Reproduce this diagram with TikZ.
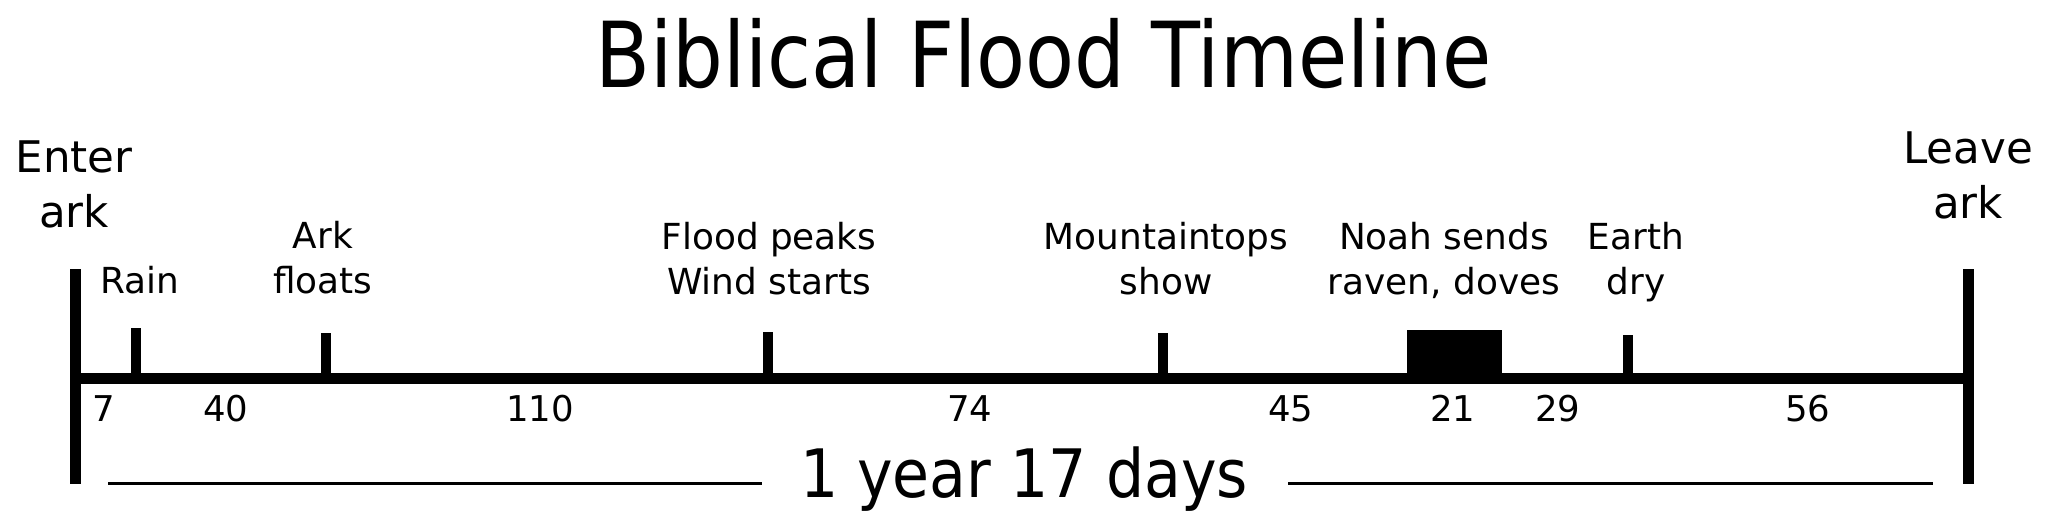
\documentclass[tikz,border=0pt]{standalone}
\usepackage{fontspec}
\setmainfont{DejaVu Sans}
\newfontfamily\narrowfont[FakeStretch=0.88]{DejaVu Sans}
\newfontfamily\totalfont[FakeStretch=0.90]{DejaVu Sans}

\begin{document}
\begin{tikzpicture}[
  event/.style={font=\fontsize{10.2}{12.8}\selectfont, align=center, inner sep=0pt, anchor=base},
  ends/.style={font=\fontsize{12.4}{15.6}\selectfont, align=center, inner sep=0pt, anchor=base},
  count/.style={font=\fontsize{10.1}{12}\selectfont, inner sep=0pt, anchor=base},
  axisline/.style={line width=1.07mm},
  tickline/.style={line width=1mm},
]
\useasboundingbox (0,0) rectangle (20.48,5.21);
% title
\node[font=\narrowfont\fontsize{25.9}{30}\selectfont, inner sep=0pt, anchor=base] (title) at (10.435,4.34) {Biblical Flood Timeline};
% main axis and end bars
\draw[axisline] (0.755,1.425) -- (19.685,1.425);
\draw[axisline] (0.755,2.52) -- (0.755,0.37);
\draw[axisline] (19.685,2.52) -- (19.685,0.37);
\node[ends] (enter) at (0.74,2.94) {Enter\\ark};
\node[ends] (leave) at (19.68,3.03) {Leave\\ark};
% events
\draw[tickline] (1.36,1.425) -- (1.36,1.93);
\draw[tickline] (3.255,1.425) -- (3.255,1.88);
\draw[tickline] (7.68,1.425) -- (7.68,1.89);
\draw[tickline] (11.63,1.425) -- (11.63,1.88);
\fill (14.07,1.425) rectangle (15.02,1.91);
\draw[tickline] (16.28,1.425) -- (16.28,1.86);
\node[event] (rain) at (1.395,2.28) {Rain};
\node[event] (floats) at (3.23,2.28) {Ark\\floats};
\node[event] (peaks) at (7.69,2.27) {Flood peaks\\Wind starts};
\node[event] (mount) at (11.66,2.27) {Mountaintops\\show};
\node[event] (noah) at (14.44,2.27) {Noah sends\\raven, doves};
\node[event] (earth) at (16.36,2.27) {Earth\\dry};
% day counts
\node[count] (d7) at (1.035,0.995) {7};
\node[count] (d40) at (2.26,0.995) {40};
\node[count] (d110) at (5.40,0.995) {110};
\node[count] (d74) at (9.70,0.995) {74};
\node[count] (d45) at (12.91,0.995) {45};
\node[count] (d21) at (14.53,0.995) {21};
\node[count] (d29) at (15.58,0.995) {29};
\node[count] (d56) at (18.08,0.995) {56};
% total
\node[font=\totalfont\fontsize{19}{22}\selectfont, inner sep=0pt, anchor=base] (total) at (10.24,0.24) {1 year 17 days};
\draw[line width=0.3mm] (1.08,0.38) -- (7.62,0.38);
\draw[line width=0.3mm] (12.88,0.38) -- (19.33,0.38);
\end{tikzpicture}
\end{document}
